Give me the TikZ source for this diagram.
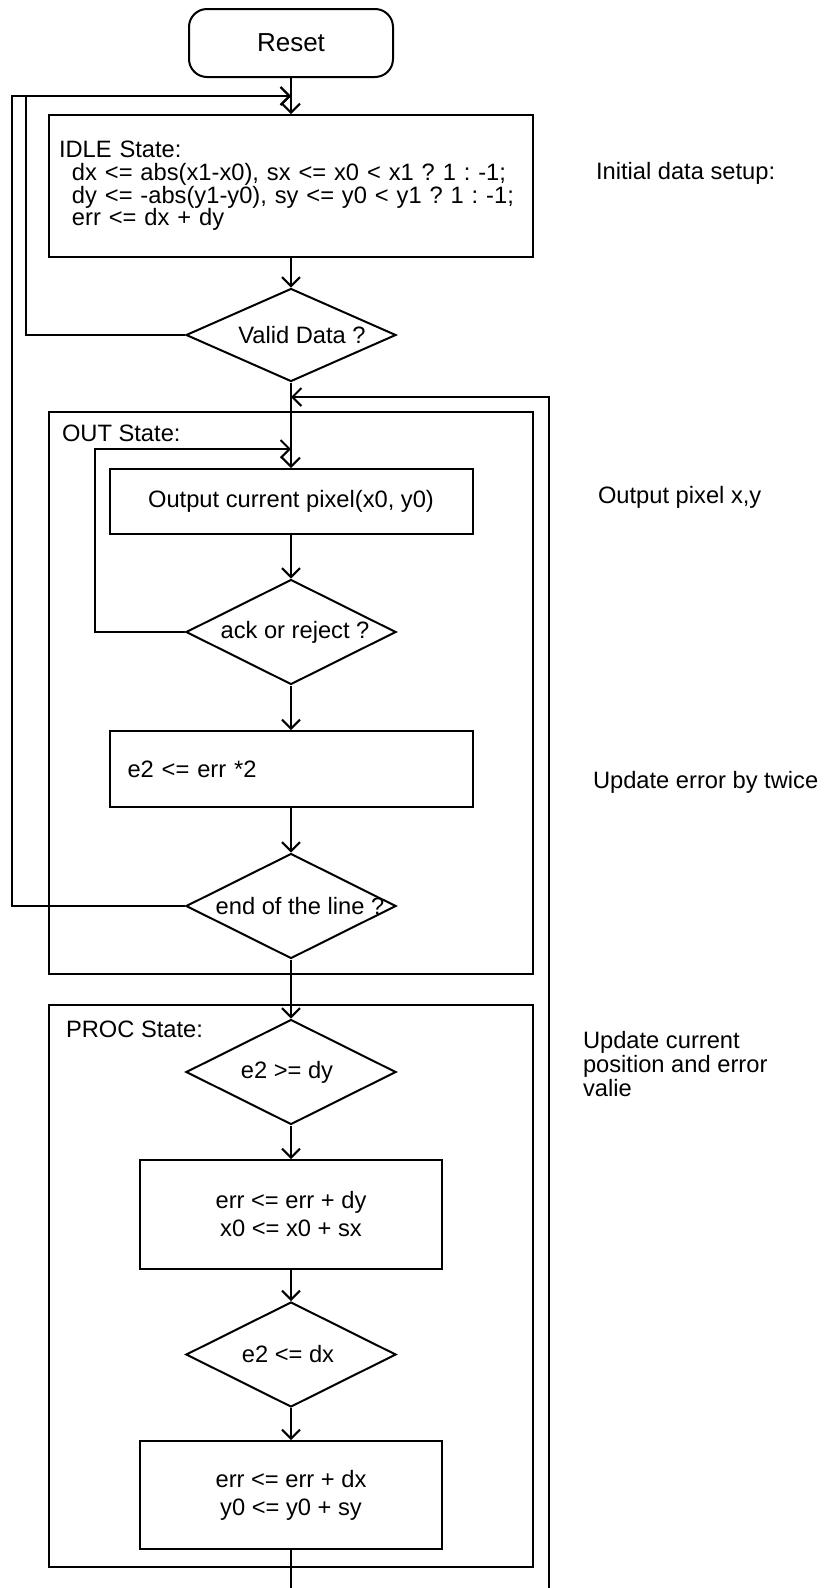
\documentclass[tikz,border=0pt]{standalone}
\usepackage{fontspec}
\setmainfont{Liberation Sans}
\usetikzlibrary{shapes.geometric,arrows.meta}
\frenchspacing

\begin{document}
\begin{tikzpicture}[->,>={Straight Barb[length=9pt,width=18pt]},x=1pt,y=-1pt,
  line width=2pt,font=\fontsize{23.7}{28}\selectfont,
  start node/.style={rectangle,rounded corners=18pt,draw,minimum width=204pt,minimum height=68pt,
    font=\fontsize{26}{30}\selectfont},
  state box/.style={rectangle,draw,minimum width=363pt,minimum height=65pt},
  calc box/.style={rectangle,draw,minimum width=302pt,minimum height=108pt,align=center},
  decision/.style={diamond,draw,inner sep=0pt,minimum width=210pt,minimum height=105pt},
  group box/.style={rectangle,draw,minimum width=484pt,minimum height=562pt},
  note/.style={anchor=west,inner sep=0pt,align=left}]

  \useasboundingbox (0,0) rectangle (823,1588);

  % state groups
  \node[group box] (outgrp) at (291,693) {};
  \node[group box] (procgrp) at (291,1286) {};
  \node[note] (outlbl) at (61,433) {OUT State:};
  \node[note] (proclbl) at (65,1029) {PROC State:};

  % main flow
  \node[start node] (reset) at (291,43) {Reset};
  \node[rectangle,draw,minimum height=142pt,text width=464pt,inner xsep=10pt,align=left,
    font=\fontsize{23.7}{22.7}\selectfont] (idle) [below of=reset,node distance=143pt]
    {IDLE State:\\
     \hspace*{13pt}dx <= abs(x1-x0), sx <= x0 < x1 ? 1 : -1;\\
     \hspace*{13pt}dy <= -abs(y1-y0), sy <= y0 < y1 ? 1 : -1;\\
     \hspace*{13pt}err <= dx + dy};
  \node[decision,minimum height=93pt,label={[xshift=11pt]center:Valid Data ?}] (valid) [below of=idle,node distance=149pt] {};
  \node[state box] (outpix) [below of=valid,node distance=166.5pt] {Output current pixel(x0, y0)};
  \node[decision,label={[xshift=4pt]center:ack or reject ?}] (ack) [below of=outpix,node distance=130.5pt] {};
  \node[state box,minimum height=76pt,text width=327pt,inner xsep=18pt,align=left] (e2) [below of=ack,node distance=137pt] {e2 <= err *2};
  \node[decision,label={[xshift=9pt]center:end of the line ?}] (endl) [below of=e2,node distance=137pt] {};
  \node[decision,label={[xshift=-4pt]center:e2 >= dy}] (ge) [below of=endl,node distance=166pt] {};
  \node[calc box,minimum height=109pt] (upx) [below of=ge,node distance=142.5pt] {err <= err + dy\\x0 <= x0 + sx};
  \node[decision,label={[xshift=-3pt]center:e2 <= dx}] (le) [below of=upx,node distance=140pt] {};
  \node[calc box] (upy) [below of=le,node distance=140.5pt] {err <= err + dx\\y0 <= y0 + sy};

  % side notes
  \node[note] (n1) at (595,173) {Initial data setup:};
  \node[note] (n2) at (597,497) {Output pixel x,y};
  \node[note] (n3) at (592,782) {Update error by twice};
  \node[note,font=\fontsize{23.7}{24}\selectfont] (n4) at (582,1064) {Update current\\position and error\\valie};

  \coordinate (topjoin) at (291,96);
  \coordinate (outjoin) at (291,397);
  \coordinate (pixjoin) at (291,449);

  \path (reset) edge (idle)
        (idle) edge (valid)
        (valid) edge (outpix)
        (outpix) edge (ack)
        (ack) edge (e2)
        (e2) edge (endl)
        (endl) edge (ge)
        (ge) edge (upx)
        (upx) edge (le)
        (le) edge (upy);

  % loops back
  \draw (valid.west) -| (26,96) -- (topjoin);
  \draw (endl.west) -| (12,96) -- (topjoin);
  \draw (ack.west) -| (95,449) -- (pixjoin);
  \draw (upy.south) -- ++(0,60) -| (549,397) -- (outjoin);

\end{tikzpicture}
\end{document}
